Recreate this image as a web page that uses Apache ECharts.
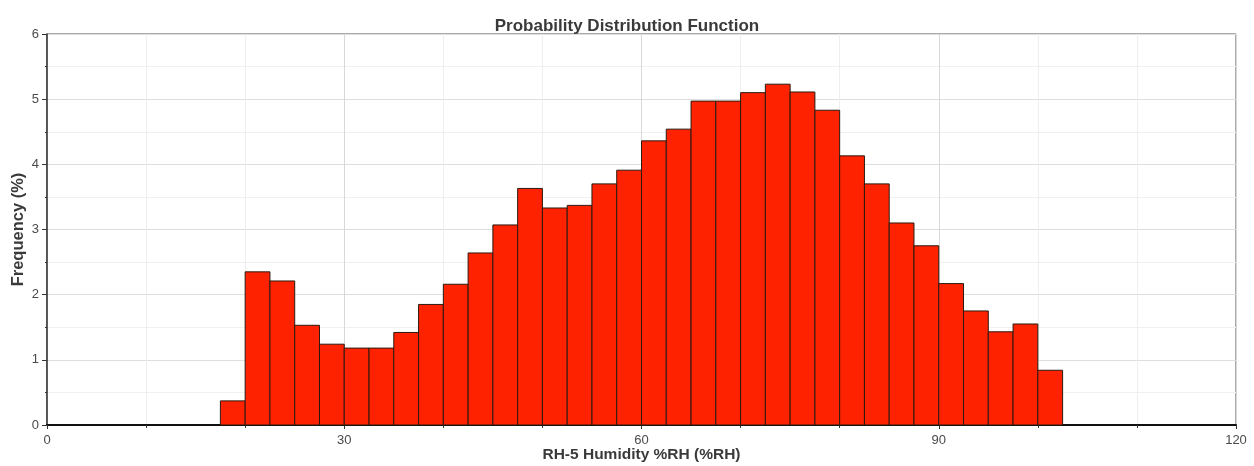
<!DOCTYPE html>
<html>
<head>
<meta charset="utf-8">
<script src="https://cdn.jsdelivr.net/npm/echarts@6/dist/echarts.min.js"></script>
<style>
html,body{margin:0;padding:0;background:#fff;}
#c{width:1254px;height:466px;}
</style>
</head>
<body>
<div id="c"></div>
<script>
// Histogram bins (lower edge, %RH) and bin width
const binStarts = [17.5, 20, 22.5, 25, 27.5, 30, 32.5, 35, 37.5, 40, 42.5, 45, 47.5, 50, 52.5, 55, 57.5,
  60, 62.5, 65, 67.5, 70, 72.5, 75, 77.5, 80, 82.5, 85, 87.5, 90, 92.5, 95, 97.5, 100];
const binWidth = 2.5;
// Frequency (%) per bin
const frequency = [0.37, 2.35, 2.21, 1.53, 1.24, 1.18, 1.18, 1.42, 1.85, 2.16, 2.64, 3.07, 3.63, 3.33, 3.37,
  3.70, 3.91, 4.36, 4.54, 4.97, 4.97, 5.10, 5.23, 5.11, 4.83, 4.13, 3.70, 3.10, 2.75, 2.17, 1.75, 1.43, 1.55, 0.84];
const xTicks = [0, 30, 60, 90, 120];
const yTicks = [0, 1, 2, 3, 4, 5, 6];

const data = binStarts.map((s, i) => [s, s + binWidth, frequency[i]]);

const FONT = 'Arial, "Liberation Sans", sans-serif';
const chart = echarts.init(document.getElementById('c'), null, {renderer: 'canvas'});
const labelFont = {color: '#4a4a4a', fontSize: 13, fontFamily: FONT};
chart.setOption({
  animation: false,
  backgroundColor: '#fff',
  title: {
    text: 'Probability Distribution Function',
    left: 'center',
    top: 13,
    textStyle: {fontSize: 17, fontWeight: 'bold', color: '#3a3a3a', fontFamily: FONT}
  },
  grid: {left: 47, right: 18, top: 34, bottom: 41, containLabel: false, outerBoundsMode: 'none',
    show: true, borderColor: '#555', borderWidth: 1, backgroundColor: 'transparent'},
  xAxis: {
    type: 'value', min: xTicks[0], max: xTicks[xTicks.length - 1], interval: 30,
    name: 'RH-5 Humidity %RH (%RH)', nameLocation: 'middle', nameGap: 22, nameMoveOverlap: false,
    nameTextStyle: {fontSize: 15.5, fontWeight: 'bold', color: '#3a3a3a', fontFamily: FONT},
    axisLine: {show: true, lineStyle: {color: '#111', width: 2}},
    axisTick: {show: true, length: 4, lineStyle: {color: '#333'}},
    minorTick: {show: true, splitNumber: 3, length: 3, lineStyle: {color: '#333'}},
    axisLabel: Object.assign({margin: 9}, labelFont),
    splitLine: {show: true, lineStyle: {color: '#d8d8d8', width: 1}},
    minorSplitLine: {show: true, lineStyle: {color: '#eeeeee', width: 1}}
  },
  yAxis: {
    type: 'value', min: yTicks[0], max: yTicks[yTicks.length - 1], interval: 1,
    name: 'Frequency (%)', nameLocation: 'middle', nameGap: 20, nameMoveOverlap: false, nameRotate: 90,
    nameTextStyle: {fontSize: 16.5, fontWeight: 'bold', color: '#3a3a3a', fontFamily: FONT},
    axisLine: {show: true, lineStyle: {color: '#333', width: 1.5}},
    axisTick: {show: true, length: 5, lineStyle: {color: '#333'}},
    minorTick: {show: true, splitNumber: 2, length: 2, lineStyle: {color: '#333'}},
    axisLabel: Object.assign({margin: 8}, labelFont),
    splitLine: {show: true, lineStyle: {color: '#dedede', width: 1}},
    minorSplitLine: {show: true, lineStyle: {color: '#f0f0f0', width: 1}}
  },
  series: [{
    type: 'custom',
    data: data,
    encode: {x: [0, 1], y: 2},
    renderItem: function (params, api) {
      const p0 = api.coord([api.value(0), api.value(2)]);
      const p1 = api.coord([api.value(1), 0]);
      return {
        type: 'rect',
        shape: {x: p0[0], y: p0[1], width: p1[0] - p0[0], height: p1[1] - p0[1]},
        style: {fill: '#ff2200', stroke: '#2a1a10', lineWidth: 1}
      };
    }
  }]
});
</script>
</body>
</html>
